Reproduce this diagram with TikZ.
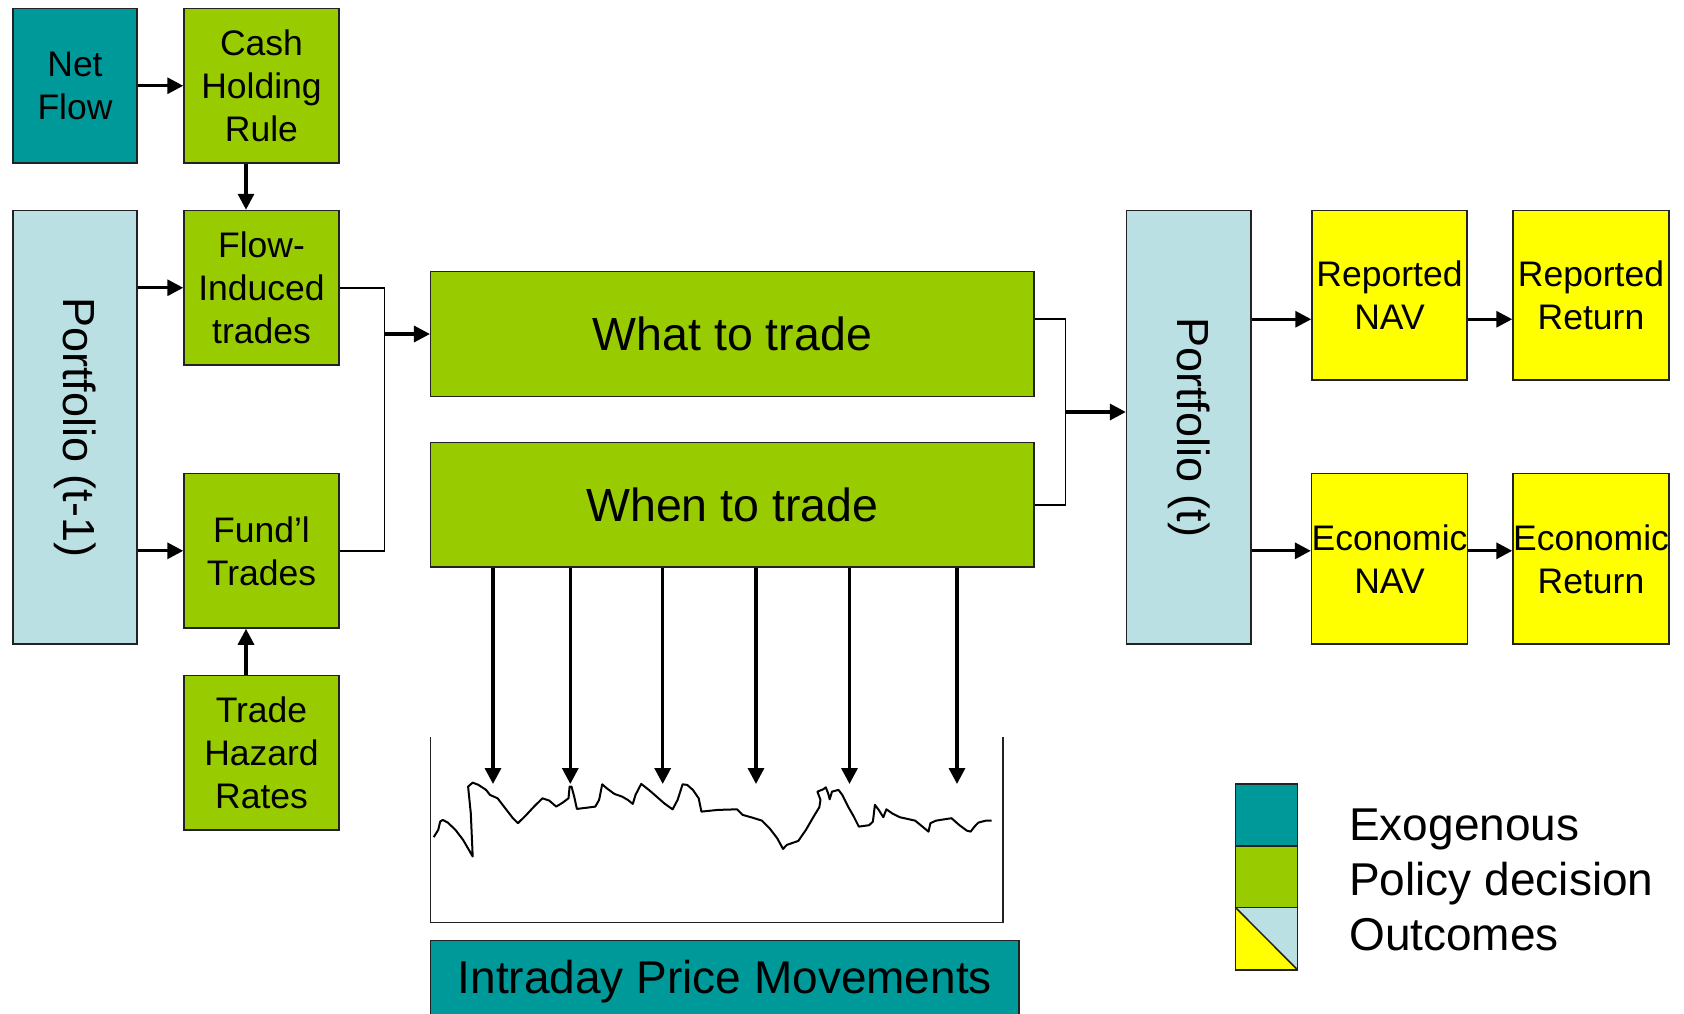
\documentclass[tikz,border=0pt]{standalone}
\usepackage{fontspec}
\setmainfont{Liberation Sans}
\usetikzlibrary{arrows.meta}
\definecolor{cteal}{HTML}{009999}
\definecolor{cgreen}{HTML}{99CC00}
\definecolor{clblue}{HTML}{BBE0E3}
\definecolor{cyellow}{HTML}{FFFF00}
\definecolor{cborder}{HTML}{222222}
\begin{document}
\begin{tikzpicture}[x=1pt,y=-1pt,
  box/.style={draw=cborder, line width=1.5pt, inner sep=0pt, align=center, text=black,
    font=\fontsize{35.5}{43}\selectfont},
  bigtext/.style={font=\fontsize{46.5}{54}\selectfont},
  arr/.style={line width=3.3pt, -{Triangle[length=16pt,width=16pt]}},
  bracket/.style={line width=1.5pt},
  rotlabel/.style={rotate=-90, font=\fontsize{45}{50}\selectfont, inner sep=0pt},
  legtext/.style={anchor=base west, inner sep=0pt, font=\fontsize{46}{55}\selectfont}]
\useasboundingbox (0,0) rectangle (1684,1013);

% left column
\node[box, fill=cteal, minimum width=124pt, minimum height=154.5pt] (net) at (75,85.75) {Net\\Flow};
\node[box, fill=cgreen, minimum width=155pt, minimum height=154.5pt] (cash) at (261.5,85.75) {Cash\\Holding\\Rule};
\node[box, fill=cgreen, minimum width=155pt, minimum height=154.5pt] (flow) at (261.5,287.75) {Flow-\\Induced\\trades};
\node[box, fill=cgreen, minimum width=155pt, minimum height=154.5pt] (fund) at (261.5,550.8) {Fund’l\\Trades};
\node[box, fill=cgreen, minimum width=155pt, minimum height=154.5pt] (hazard) at (261.5,752.75) {Trade\\Hazard\\Rates};
\node[box, fill=clblue, minimum width=124pt, minimum height=433.5pt] (port1) at (75,427.25) {};
\node[rotlabel] (port1lbl) at (port1.center) {Portfolio (t-1)};

% middle
\node[box, bigtext, fill=cgreen, minimum width=603.3pt, minimum height=124.6pt] (what) at (732.35,334) {What to trade};
\node[box, bigtext, fill=cgreen, minimum width=603.3pt, minimum height=124.6pt] (when) at (732.35,504.75) {When to trade};
\node[box, fill=cteal, minimum width=588.3pt, minimum height=80pt, anchor=north] (ipm) at (724.85,939.5) {};
\node[font=\fontsize{46}{52}\selectfont, inner sep=0pt] (ipmlbl) at (724.85,982) {Intraday Price Movements};

% right
\node[box, fill=clblue, minimum width=124.4pt, minimum height=433.5pt] (port2) at (1188.8,427.25) {};
\node[rotlabel] (port2lbl) at (port2.center) {Portfolio (t)};
\node[box, fill=cyellow, minimum width=155pt, minimum height=169.5pt] (rnav) at (1389.5,295.25) {Reported\\NAV};
\node[box, fill=cyellow, minimum width=156pt, minimum height=169.5pt] (rret) at (1591,295.25) {Reported\\Return};
\node[box, fill=cyellow, minimum width=155pt, minimum height=170.4pt] (enav) at (1389.5,558.8) {Economic\\NAV};
\node[box, fill=cyellow, minimum width=156pt, minimum height=170.4pt] (eret) at (1591,558.8) {Economic\\Return};

% connectors left
\draw[arr] (net.east) -- (cash.west);
\draw[arr] ([xshift=-15.5pt]cash.south) -- ([xshift=-15.5pt]flow.north);
\draw[arr] ([xshift=-15.5pt]hazard.north) -- ([xshift=-15.5pt]fund.south);
\draw[arr] (port1.east |- flow.west) -- (flow.west);
\draw[arr] (port1.east |- fund.west) -- (fund.west);
\coordinate (j1) at (384.5,334);
\draw[bracket] (flow.east) -| (j1) |- (fund.east);
\draw[arr] (j1) -- (what.west);

% connectors right
\coordinate (j2) at (1065.5,412);
\draw[bracket] ([yshift=15pt]what.east) -| (j2) |- (when.east);
\draw[arr] (j2) -- (port2.west |- j2);
\coordinate (rin) at ([yshift=-24pt]rnav.west);
\coordinate (ein) at ([yshift=8pt]enav.west);
\draw[arr] (port2.east |- rin) -- (rin);
\draw[arr] (port2.east |- ein) -- (ein);
\draw[arr] ([yshift=-24pt]rnav.east) -- ([yshift=-24pt]rret.west);
\draw[arr] ([yshift=8pt]enav.east) -- ([yshift=8pt]eret.west);

% chart
\draw[line width=1.5pt, draw=cborder] (430.7,737) -- (430.7,922.6) -- (1003,922.6) -- (1003,737);
\foreach \i/\xx in {1/493,2/570.3,3/662.7,4/756,5/849.5,6/957}{
  \coordinate (t\i) at (\xx,784);
  \draw[arr] (when.south -| t\i) -- (t\i);
}
\draw[line width=2pt, line join=round] plot coordinates {
(433.7,837.2) (438.2,829.9) (440.2,821.6) (442.8,819.9) (447.8,822.6) (455.5,829.9) (463.1,839.9)
(468.9,849.9) (472.7,856.5) (470.8,813.3) (468.1,786.6) (472.7,782.6) (478.5,784.9) (486.1,789.9)
(490.0,794.9) (497.6,798.3) (505.3,808.3) (512.9,818.2) (517.9,823.2) (526.3,814.9) (534.0,806.6)
(542.4,798.3) (549.3,800.6) (556.2,806.6) (562.7,802.6) (568.5,798.3) (569.6,786.6) (571.5,786.6)
(574.2,796.6) (576.9,808.9) (587.6,807.6) (595.3,806.6) (599.1,799.9) (602.2,784.3) (606.8,788.3)
(614.4,793.9) (622.1,796.6) (627.8,799.9) (632.8,803.9) (635.5,794.9) (641.2,783.9) (648.9,789.9)
(656.6,796.6) (664.2,803.3) (672.6,809.3) (677.6,799.9) (682.6,784.3) (687.2,784.9) (692.9,789.9)
(698.7,798.3) (701.4,811.6) (717.8,809.9) (737.0,809.3) (742.7,814.9) (752.3,817.6) (761.9,820.6)
(769.5,828.2) (777.2,838.2) (783.0,848.9) (786.8,844.9) (798.3,840.9) (805.9,829.9) (813.6,816.6)
(819.3,807.3) (820.5,799.9) (817.4,791.6) (823.2,789.3) (825.8,787.3) (828.1,793.3) (829.7,799.3)
(832.0,791.6) (838.5,789.9) (842.3,794.9) (848.1,806.6) (853.8,816.6) (858.8,826.6) (869.1,825.2)
(872.9,821.6) (874.9,804.9) (878.7,809.9) (883.3,817.2) (886.4,809.3) (892.1,813.3) (899.8,817.2)
(915.1,820.6) (921.6,825.9) (928.5,831.6) (930.4,823.2) (936.1,820.6) (951.5,818.2) (959.1,824.9)
(966.8,830.6) (970.6,831.6) (974.5,826.6) (978.3,822.6) (985.9,820.6) (991.7,820.6)};

% legend
\node[box, fill=cteal, minimum width=62pt, minimum height=62.2pt] (lg1) at (1266.7,815) {};
\node[box, fill=cgreen, minimum width=62pt, minimum height=61.7pt] (lg2) at (1266.7,876.85) {};
\fill[cyellow] (1235.7,907.7) -- (1235.7,970) -- (1297.7,970) -- cycle;
\fill[clblue] (1235.7,907.7) -- (1297.7,907.7) -- (1297.7,970) -- cycle;
\draw[line width=1.5pt, draw=cborder] (1235.7,907.7) rectangle (1297.7,970);
\draw[line width=1.5pt, draw=cborder] (1235.7,907.7) -- (1297.7,970);
\node[legtext] (lt1) at (1349,840) {Exogenous};
\node[legtext] (lt2) at (1349,895) {Policy decision};
\node[legtext] (lt3) at (1349,950) {Outcomes};
\end{tikzpicture}
\end{document}
